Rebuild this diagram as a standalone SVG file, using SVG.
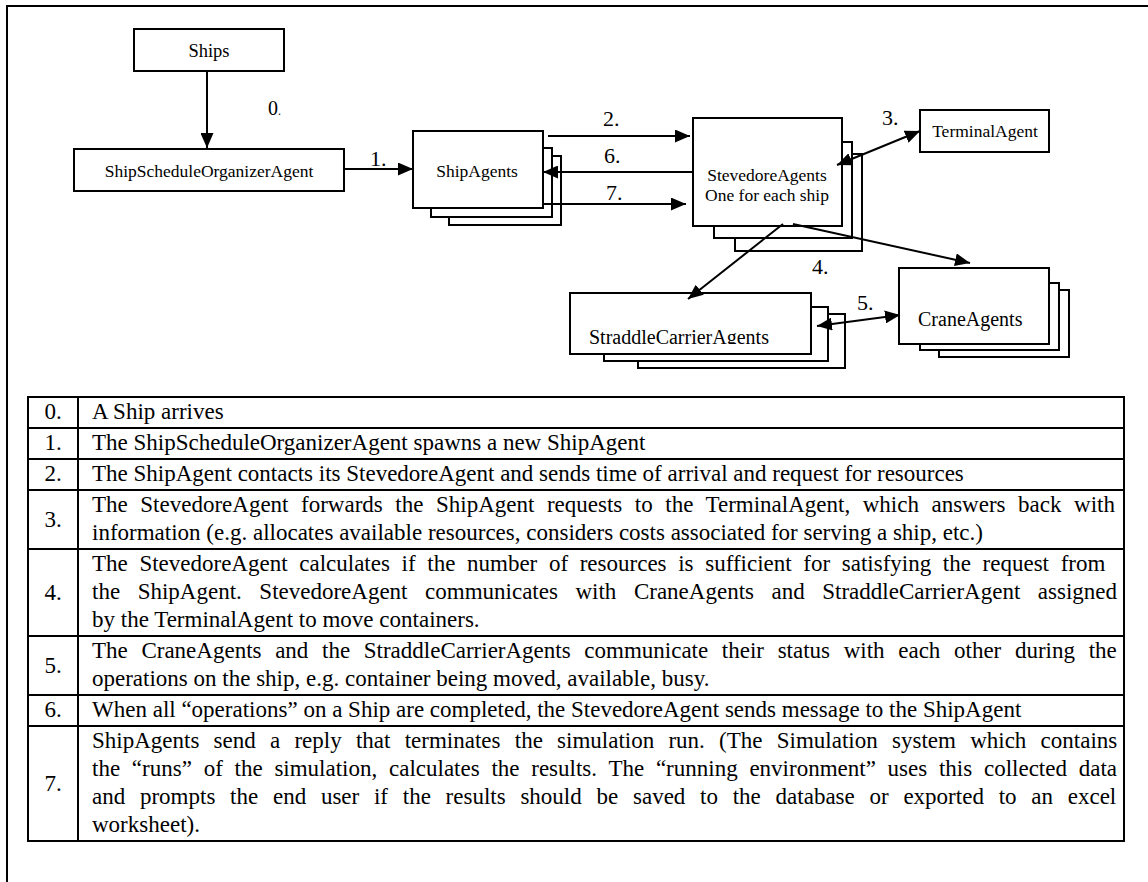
<svg xmlns="http://www.w3.org/2000/svg" width="1148" height="882" viewBox="0 0 1148 882">
<style>
  .box { fill: #fff; stroke: #000; stroke-width: 2; }
  .lbl { font-family: "Liberation Serif", "Times New Roman", serif; fill: #000; }
  .node { font-size: 17.5px; text-anchor: middle; }
  .num { font-size: 22px; }
  .tbl { font-size: 23px; }
  .tc { text-anchor: middle; }
  .conn { stroke: #000; stroke-width: 2; fill: none; }
  .grid { stroke: #000; stroke-width: 2; fill: none; }
</style>
<defs>
  <marker id="ah" viewBox="0 0 15 13" refX="15" refY="6.5" markerWidth="15" markerHeight="13" markerUnits="userSpaceOnUse" orient="auto-start-reverse">
    <path d="M0,0 L15,6.5 L0,13 z" fill="#000"/>
  </marker>
  <clipPath id="clipStraddle"><rect x="570" y="293" width="241" height="51"/></clipPath>
</defs>
<rect x="0" y="0" width="1148" height="882" fill="#fff"/>
<path d="M7,882 L7,6 L1148,6" class="grid"/>

<g id="ships">
  <rect class="box" x="134" y="29" width="150" height="42"/>
  <text class="lbl node" x="209" y="57" style="font-size:18.5px">Ships</text>
</g>
<g id="shipScheduleOrganizerAgent">
  <rect class="box" x="74" y="149" width="270" height="42"/>
  <text class="lbl node" x="209" y="177">ShipScheduleOrganizerAgent</text>
</g>
<g id="shipAgents">
  <rect class="box" x="449" y="156" width="112" height="69"/>
  <rect class="box" x="431" y="148" width="121" height="69"/>
  <rect class="box" x="413" y="131" width="130" height="77"/>
  <text class="lbl node" x="477" y="177">ShipAgents</text>
</g>
<g id="stevedoreAgents">
  <rect class="box" x="735" y="154" width="127" height="97"/>
  <rect class="box" x="714" y="142" width="138" height="96"/>
  <rect class="box" x="693" y="118" width="149" height="108"/>
  <text class="lbl node" x="767" y="181">StevedoreAgents</text>
  <text class="lbl node" x="767" y="201">One for each ship</text>
</g>
<g id="terminalAgent">
  <rect class="box" x="920" y="110" width="129" height="42"/>
  <text class="lbl node" x="985" y="137">TerminalAgent</text>
</g>
<g id="straddleCarrierAgents">
  <rect class="box" x="638" y="314" width="207" height="54"/>
  <rect class="box" x="604" y="307" width="224" height="54"/>
  <rect class="box" x="570" y="293" width="241" height="61"/>
  <text class="lbl" x="589" y="344" style="font-size:20px" clip-path="url(#clipStraddle)">StraddleCarrierAgents</text>
</g>
<g id="craneAgents">
  <rect class="box" x="939" y="290" width="130" height="67"/>
  <rect class="box" x="920" y="283" width="139" height="67"/>
  <rect class="box" x="899" y="268" width="150" height="76"/>
  <text class="lbl" x="918" y="326" style="font-size:20px">CraneAgents</text>
</g>

<g id="connectors">
  <path class="conn" d="M207,71 L207,148" marker-end="url(#ah)"/>
  <path class="conn" d="M344,169 L413,169" marker-end="url(#ah)"/>
  <path class="conn" d="M548,136 L690,136" marker-end="url(#ah)"/>
  <path class="conn" d="M693,172 L543,172" marker-end="url(#ah)"/>
  <path class="conn" d="M543,204 L686,204" marker-end="url(#ah)"/>
  <path class="conn" d="M837,165 L920,131" marker-start="url(#ah)" marker-end="url(#ah)"/>
  <path class="conn" d="M783,224 L688,299" marker-end="url(#ah)"/>
  <path class="conn" d="M793,224 L970,263" marker-end="url(#ah)"/>
  <path class="conn" d="M817,326 L900,315" marker-start="url(#ah)" marker-end="url(#ah)"/>
  <text class="lbl" x="268" y="115" style="font-size:20px">0<tspan style="font-size:12px">.</tspan></text>
  <text class="lbl num" x="370" y="166">1.</text>
  <text class="lbl num" x="603" y="126">2.</text>
  <text class="lbl num" x="882" y="125">3.</text>
  <text class="lbl num" x="812" y="274">4.</text>
  <text class="lbl num" x="857" y="310">5.</text>
  <text class="lbl num" x="604" y="163">6.</text>
  <text class="lbl num" x="606" y="200">7.</text>
</g>

<g id="legend">
  <rect class="grid" x="28" y="397" width="1096" height="444"/>
  <path class="grid" d="M78,397 V841 M28,428 H1124 M28,459 H1124 M28,490 H1124 M28,549 H1124 M28,636 H1124 M28,695 H1124 M28,726 H1124"/>
  <g class="lbl tbl">
    <text class="tc" x="53" y="419">0.</text>
    <text class="tc" x="53" y="450">1.</text>
    <text class="tc" x="53" y="481">2.</text>
    <text class="tc" x="53" y="527">3.</text>
    <text class="tc" x="53" y="600">4.</text>
    <text class="tc" x="53" y="673">5.</text>
    <text class="tc" x="53" y="717">6.</text>
    <text class="tc" x="53" y="791">7.</text>

    <text x="92" y="419">A Ship arrives</text>
    <text x="92" y="450">The ShipScheduleOrganizerAgent spawns a new ShipAgent</text>
    <text x="92" y="481">The ShipAgent contacts its StevedoreAgent and sends time of arrival and request for resources</text>
    <text x="92" y="512" word-spacing="6.8">The StevedoreAgent forwards the ShipAgent requests to the TerminalAgent, which answers back with</text>
    <text x="92" y="540">information (e.g. allocates available resources, considers costs associated for serving a ship, etc.)</text>
    <text x="92" y="571" word-spacing="5.9">The StevedoreAgent calculates if the number of resources is sufficient for satisfying the request from</text>
    <text x="92" y="599" word-spacing="11.8">the ShipAgent. StevedoreAgent communicates with CraneAgents and StraddleCarrierAgent assigned</text>
    <text x="92" y="627">by the TerminalAgent to move containers.</text>
    <text x="92" y="658" word-spacing="7.9">The CraneAgents and the StraddleCarrierAgents communicate their status with each other during the</text>
    <text x="92" y="686">operations on the ship, e.g. container being moved, available, busy.</text>
    <text x="92" y="717">When all “operations” on a Ship are completed, the StevedoreAgent sends message to the ShipAgent</text>
    <text x="92" y="748" word-spacing="8.5">ShipAgents send a reply that terminates the simulation run. (The Simulation system which contains</text>
    <text x="92" y="776" word-spacing="6.0">the “runs” of the simulation, calculates the results. The “running environment” uses this collected data</text>
    <text x="92" y="804" word-spacing="9.0">and prompts the end user if the results should be saved to the database or exported to an excel</text>
    <text x="92" y="832">worksheet).</text>
  </g>
</g>
</svg>
